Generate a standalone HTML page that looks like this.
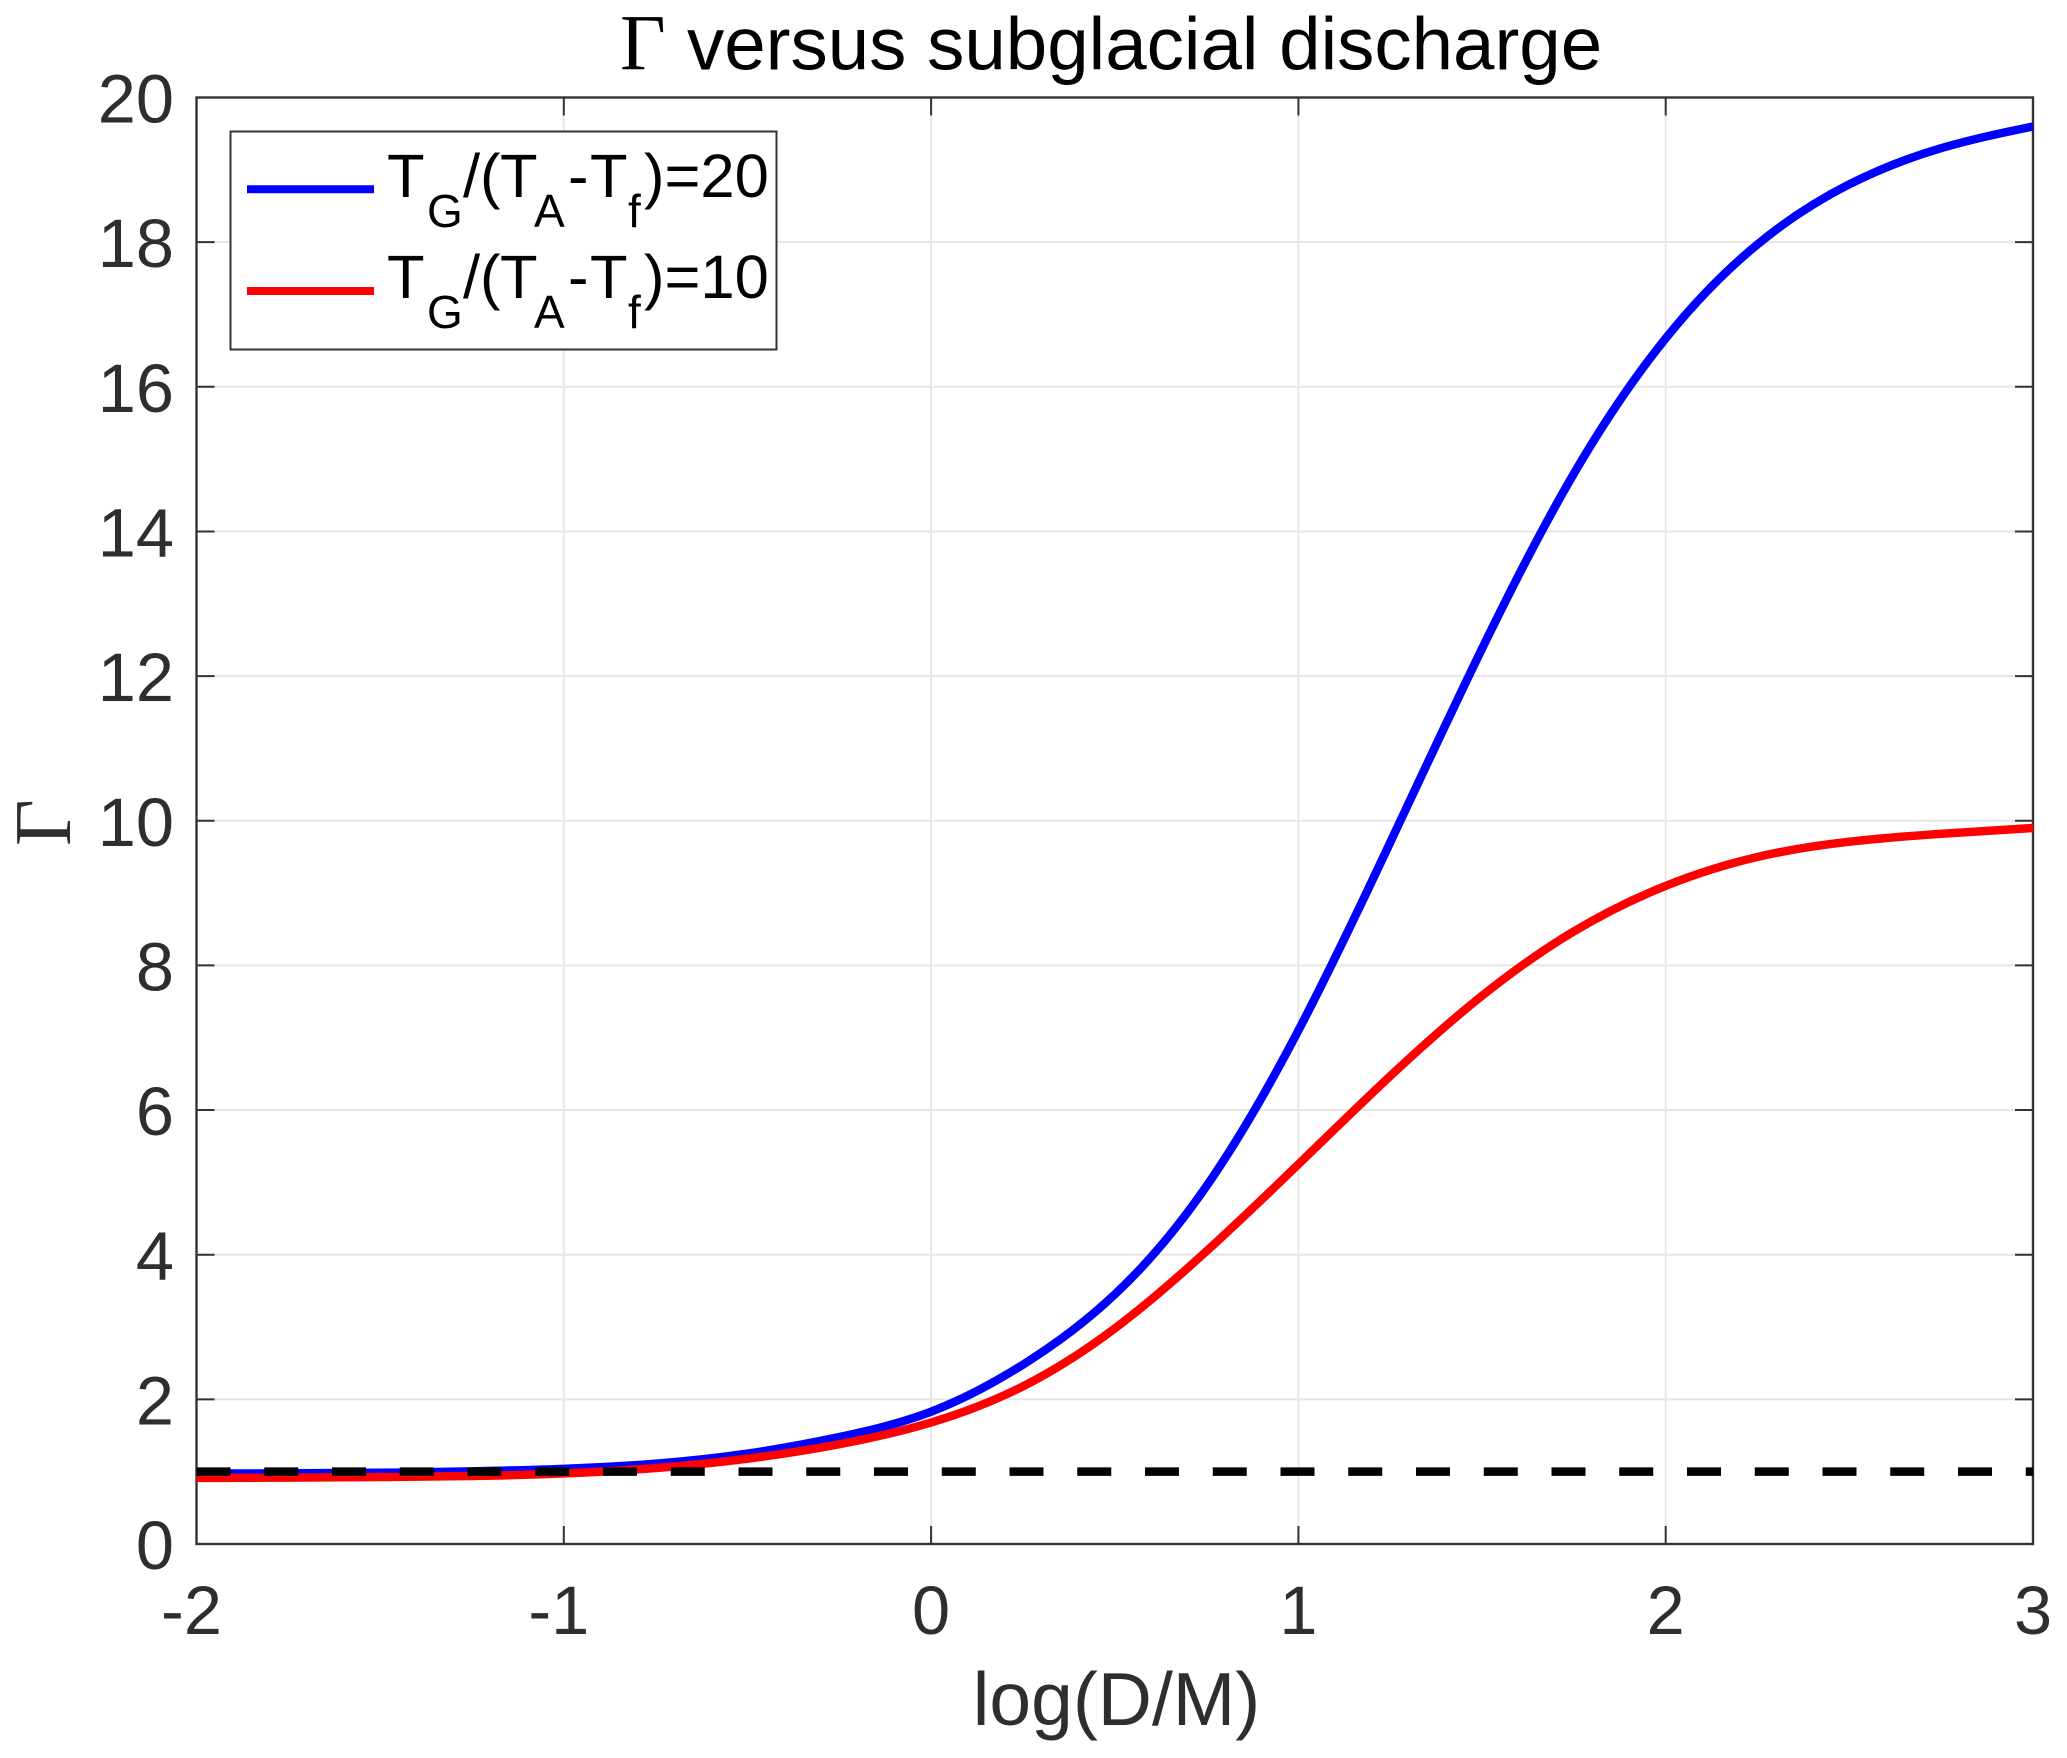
<!DOCTYPE html>
<html lang="en">
<head>
<meta charset="utf-8">
<title>Γ versus subglacial discharge</title>
<style>
html,body{margin:0;padding:0;background:#fff;}
svg{display:block;}
text{font-family:"Liberation Sans",sans-serif;}
.serif{font-family:"Liberation Serif",serif;}
</style>
</head>
<body>
<svg id="chart" xmlns="http://www.w3.org/2000/svg" width="2067" height="1758" viewBox="0 0 2067 1758">
  <rect x="0" y="0" width="2067" height="1758" fill="#fff"/>
  <g id="grid"></g>
  <rect x="196.5" y="97.5" width="1836.5" height="1446.5" fill="none" stroke="#333" stroke-width="2.4"/>
  <g id="ticks"></g>
  <g id="tick-labels" font-size="68.5" fill="#2e2e2e"></g>
  <g id="series"></g>

  <text y="69.5" font-size="74.5" fill="#000"><tspan class="serif" x="620" font-size="79">Γ</tspan><tspan x="687">versus subglacial discharge</tspan></text>
  <text x="1116.5" y="1725" font-size="75" fill="#2e2e2e" text-anchor="middle">log(D/M)</text>
  <text class="serif" transform="translate(70,846) rotate(-90)" font-size="81" fill="#2e2e2e">Γ</text>

  <g>
    <rect x="230.5" y="131.5" width="546" height="218" fill="#fff" stroke="#333" stroke-width="2"/>
    <line x1="247" x2="374" y1="189.3" y2="189.3" stroke="#0000ff" stroke-width="8"/>
    <text y="197" font-size="61.5" fill="#000"><tspan x="387">T</tspan><tspan x="427" y="227" font-size="46">G</tspan><tspan x="463" y="197">/</tspan><tspan x="480">(</tspan><tspan x="500">T</tspan><tspan x="534" y="227" font-size="46">A</tspan><tspan x="568" y="197">-</tspan><tspan x="590">T</tspan><tspan x="628" y="227" font-size="46">f</tspan><tspan x="644" y="197">)=20</tspan></text>
    <line x1="247" x2="374" y1="291" y2="291" stroke="#ff0000" stroke-width="8"/>
    <text y="298" font-size="61.5" fill="#000"><tspan x="387">T</tspan><tspan x="427" y="328" font-size="46">G</tspan><tspan x="463" y="298">/</tspan><tspan x="480">(</tspan><tspan x="500">T</tspan><tspan x="534" y="328" font-size="46">A</tspan><tspan x="568" y="298">-</tspan><tspan x="590">T</tspan><tspan x="628" y="328" font-size="46">f</tspan><tspan x="644" y="298">)=10</tspan></text>
  </g>
</svg>
<script>
const xTickValues = [-2, -1, 0, 1, 2, 3];
const xTickLabels = ['-2', '-1', '0', '1', '2', '3'];
const yTickValues = [0, 2, 4, 6, 8, 10, 12, 14, 16, 18, 20];
const yTickLabels = ['0', '2', '4', '6', '8', '10', '12', '14', '16', '18', '20'];

const logDM = [-2, -1.5, -1.25, -1, -0.75, -0.5, -0.25, 0, 0.25, 0.5, 0.75, 1, 1.25, 1.5, 1.75, 2, 2.25, 2.5, 2.75, 3];
const gammaRatio20 = [0.975, 0.985, 1.005, 1.04, 1.11, 1.25, 1.48, 1.83, 2.48, 3.45, 4.95, 7.1, 9.7, 12.38, 14.8, 16.67, 17.97, 18.8, 19.3, 19.6];
const gammaRatio10 = [0.913, 0.925, 0.94, 0.975, 1.05, 1.18, 1.38, 1.68, 2.18, 2.98, 4.05, 5.25, 6.47, 7.58, 8.47, 9.1, 9.5, 9.71, 9.82, 9.9];
const referenceX = [-2, 3];
const referenceGamma = [1, 1];

const SVG_NS = 'http://www.w3.org/2000/svg';
const plotLeft = 196.5, plotRight = 2033, plotTop = 97.5, plotBottom = 1544;
const xMin = -2, xMax = 3, yMin = 0, yMax = 20;
const tickLength = 18;

function xScale(v) { return plotLeft + (v - xMin) / (xMax - xMin) * (plotRight - plotLeft); }
function yScale(v) { return plotBottom - (v - yMin) / (yMax - yMin) * (plotBottom - plotTop); }

function make(tag, attrs, parent) {
  const el = document.createElementNS(SVG_NS, tag);
  for (const k in attrs) el.setAttribute(k, attrs[k]);
  parent.appendChild(el);
  return el;
}

// Natural cubic spline path through the data points
function smoothPath(xs, ys) {
  const px = xs.map(xScale), py = ys.map(yScale);
  const n = px.length;
  const h = [], a = new Array(n).fill(0), b = new Array(n).fill(1), c = new Array(n).fill(0), r = new Array(n).fill(0);
  for (let i = 0; i < n - 1; i++) h.push(px[i + 1] - px[i]);
  for (let i = 1; i < n - 1; i++) {
    a[i] = h[i - 1];
    b[i] = 2 * (h[i - 1] + h[i]);
    c[i] = h[i];
    r[i] = 6 * ((py[i + 1] - py[i]) / h[i] - (py[i] - py[i - 1]) / h[i - 1]);
  }
  for (let i = 1; i < n; i++) {
    const f = a[i] / b[i - 1];
    b[i] -= f * c[i - 1];
    r[i] -= f * r[i - 1];
  }
  const s = new Array(n).fill(0);
  s[n - 1] = r[n - 1] / b[n - 1];
  for (let i = n - 2; i >= 0; i--) s[i] = (r[i] - c[i] * s[i + 1]) / b[i];
  let path = 'M' + px[0].toFixed(2) + ' ' + py[0].toFixed(2);
  for (let i = 0; i < n - 1; i++) {
    const slope = (py[i + 1] - py[i]) / h[i];
    const m0 = slope - h[i] * (2 * s[i] + s[i + 1]) / 6;
    const m1 = slope + h[i] * (s[i] + 2 * s[i + 1]) / 6;
    const t = h[i] / 3;
    path += ' C' + (px[i] + t).toFixed(2) + ' ' + (py[i] + m0 * t).toFixed(2) +
      ' ' + (px[i + 1] - t).toFixed(2) + ' ' + (py[i + 1] - m1 * t).toFixed(2) +
      ' ' + px[i + 1].toFixed(2) + ' ' + py[i + 1].toFixed(2);
  }
  return path;
}

const gridG = document.getElementById('grid');
const ticksG = document.getElementById('ticks');
const labelsG = document.getElementById('tick-labels');
const seriesG = document.getElementById('series');

xTickValues.forEach(function (v, i) {
  const x = xScale(v);
  if (i > 0 && i < xTickValues.length - 1) {
    const gl = make('line', { x1: x, x2: x, y1: plotTop, y2: plotBottom, stroke: '#e6e6e6', 'stroke-width': 2 }, gridG);
    
    
  }
  const t1 = make('line', { x1: x, x2: x, y1: plotBottom, y2: plotBottom - tickLength, stroke: '#333', 'stroke-width': 2 }, ticksG);
  
  
  const t2 = make('line', { x1: x, x2: x, y1: plotTop, y2: plotTop + tickLength, stroke: '#333', 'stroke-width': 2 }, ticksG);
  
  
  const lb = make('text', { x: x - (v < 0 ? 5 : 0), y: 1634, 'text-anchor': 'middle' }, labelsG);
  
  
  lb.textContent = xTickLabels[i];
});

yTickValues.forEach(function (v, i) {
  const y = yScale(v);
  if (i > 0 && i < yTickValues.length - 1) {
    const gl = make('line', { x1: plotLeft, x2: plotRight, y1: y, y2: y, stroke: '#e6e6e6', 'stroke-width': 2 }, gridG);
    
    
  }
  const t1 = make('line', { x1: plotLeft, x2: plotLeft + tickLength, y1: y, y2: y, stroke: '#333', 'stroke-width': 2 }, ticksG);
  
  
  const t2 = make('line', { x1: plotRight, x2: plotRight - tickLength, y1: y, y2: y, stroke: '#333', 'stroke-width': 2 }, ticksG);
  
  
  const lb = make('text', { x: 174, y: y + 25, 'text-anchor': 'end' }, labelsG);
  
  
  lb.textContent = yTickLabels[i];
});

const line20 = make('path', { d: smoothPath(logDM, gammaRatio20), fill: 'none', stroke: '#0000ff', 'stroke-width': 8.4 }, seriesG);



const line10 = make('path', { d: smoothPath(logDM, gammaRatio10), fill: 'none', stroke: '#ff0000', 'stroke-width': 8.4 }, seriesG);



const refLine = make('line', {
  x1: xScale(referenceX[0]), x2: xScale(referenceX[1]),
  y1: yScale(referenceGamma[0]), y2: yScale(referenceGamma[1]),
  stroke: '#000', 'stroke-width': 8.5, 'stroke-dasharray': '34 33.75'
}, seriesG);


</script>
</body>
</html>
